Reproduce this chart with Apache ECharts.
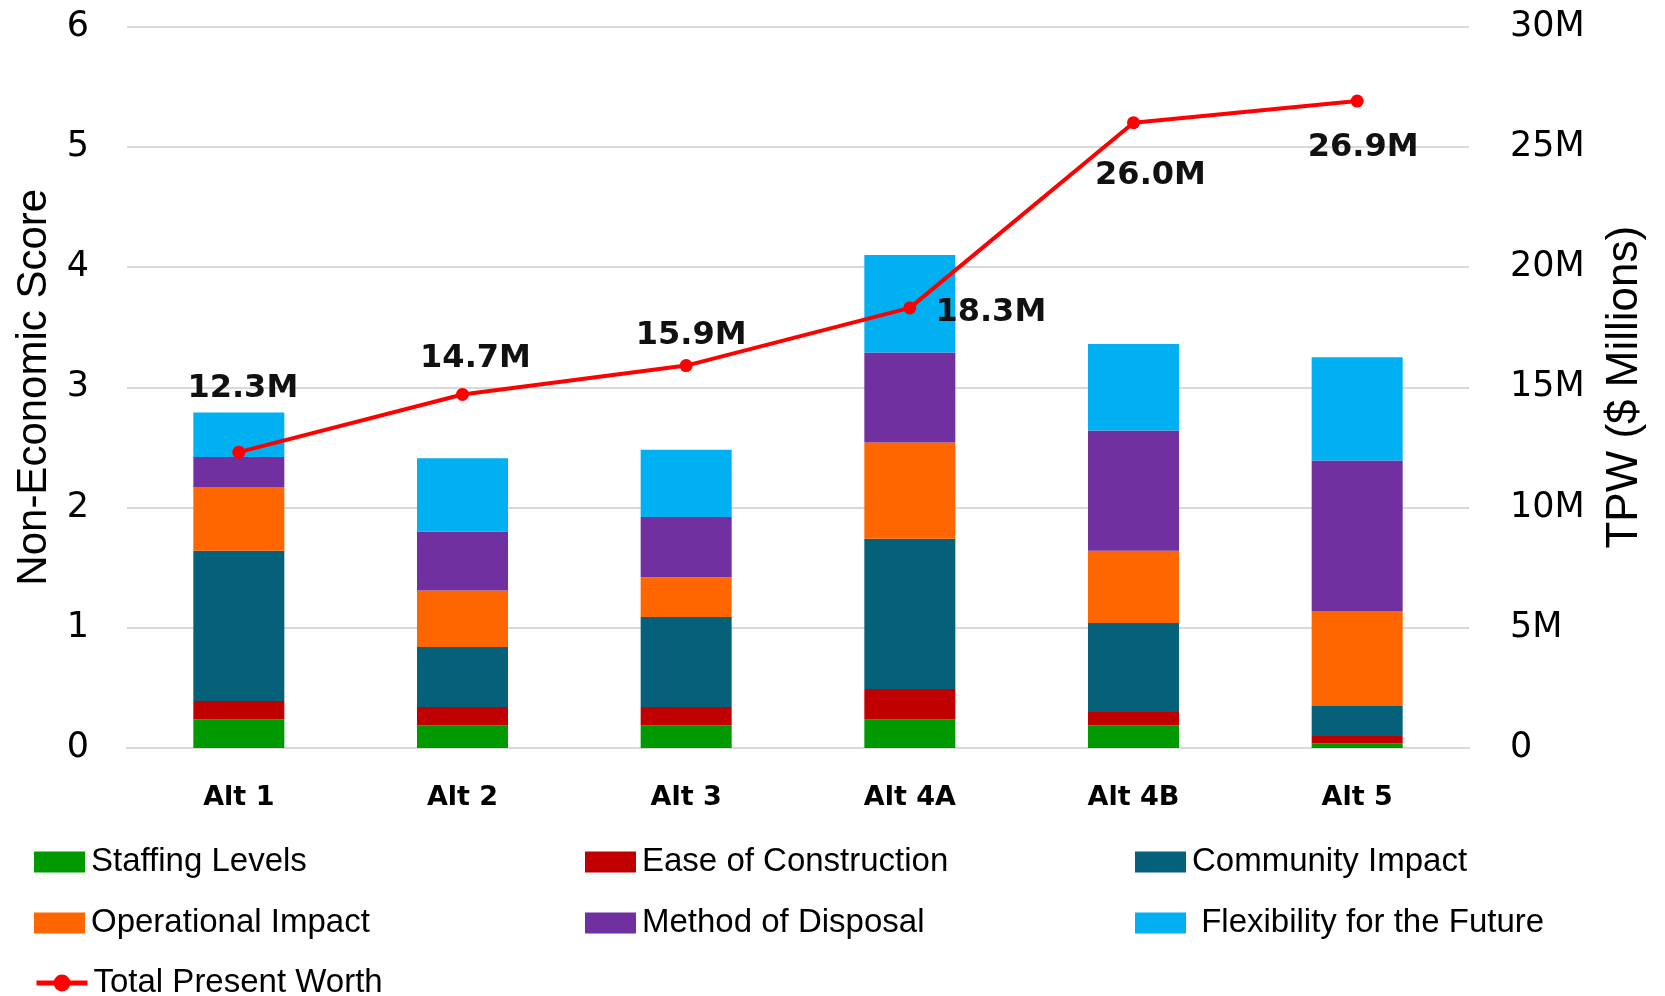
<!DOCTYPE html>
<html>
<head>
<meta charset="utf-8">
<script src="https://cdn.jsdelivr.net/npm/echarts@6/dist/echarts.min.js"></script>
<style>
html,body{margin:0;padding:0;background:#fff;}
#chart{width:1665px;height:996px;}
</style>
</head>
<body>
<div id="chart"></div>
<script>
// ---- data ----
const categories = ['Alt 1', 'Alt 2', 'Alt 3', 'Alt 4A', 'Alt 4B', 'Alt 5'];
const staffingLevels      = [0.24, 0.19, 0.19, 0.24, 0.19, 0.04];
const easeOfConstruction  = [0.15, 0.15, 0.15, 0.25, 0.11, 0.06];
const communityImpact     = [1.25, 0.50, 0.75, 1.25, 0.74, 0.25];
const operationalImpact   = [0.53, 0.47, 0.33, 0.80, 0.60, 0.79];
const methodOfDisposal    = [0.25, 0.49, 0.50, 0.75, 1.00, 1.25];
const flexibilityFuture   = [0.37, 0.61, 0.56, 0.81, 0.72, 0.86];
const totalPresentWorth   = [12.3, 14.7, 15.9, 18.3, 26.0, 26.9];
const leftTickLabels  = ['0', '1', '2', '3', '4', '5', '6'];
const rightTickLabels = ['0', '5M', '10M', '15M', '20M', '25M', '30M'];

// ---- styling (not data) ----
const labelOffsets = [[4, -63], [13, -36], [5, -30], [81, 5], [17, 53], [6, 47]];
const calibriLike = '"Liberation Sans", Arial, sans-serif';
const geomFont = '"DejaVu Sans", sans-serif';

const barDefs = [
  {name: 'Staffing Levels', data: staffingLevels, color: '#009900'},
  {name: 'Ease of Construction', data: easeOfConstruction, color: '#C00000'},
  {name: 'Community Impact', data: communityImpact, color: '#05617A'},
  {name: 'Operational Impact', data: operationalImpact, color: '#FF6600'},
  {name: 'Method of Disposal', data: methodOfDisposal, color: '#7030A0'},
  {name: 'Flexibility for the Future', data: flexibilityFuture, color: '#00B0F0'}
];

const series = barDefs.map(d => ({
  name: d.name,
  type: 'bar',
  stack: 'score',
  barWidth: 91,
  data: d.data,
  itemStyle: {color: d.color},
  emphasis: {disabled: true}
}));

series.push({
  name: 'Total Present Worth',
  type: 'line',
  yAxisIndex: 1,
  data: totalPresentWorth.map((v, i) => ({
    value: v,
    label: {offset: labelOffsets[i]}
  })),
  lineStyle: {color: '#FF0000', width: 4},
  itemStyle: {color: '#FF0000'},
  symbol: 'circle',
  symbolSize: 13,
  z: 10,
  label: {
    show: true,
    position: 'inside',
    formatter: p => p.value.toFixed(1) + 'M',
    fontFamily: geomFont,
    fontWeight: 'bold',
    fontSize: 32,
    color: '#111'
  }
});

// legend placement: [name, left, centerY]
const legendSpots = [
  ['Staffing Levels', 34, 859],
  ['Ease of Construction', 585, 859],
  ['Community Impact', 1135, 859],
  ['Operational Impact', 34, 920],
  ['Method of Disposal', 585, 920],
  ['Flexibility for the Future', 1135, 920],
  ['Total Present Worth', 34, 980]
];
const legends = legendSpots.map(([n, l, cy]) => {
  const isLine = n === 'Total Present Worth';
  return {
    data: [isLine ? {name: n} : {name: n, icon: 'rect'}],
    left: l,
    top: cy - 13.5,
    itemWidth: 51,
    itemHeight: 21,
    itemGap: 0,
    padding: 0,
    selectedMode: false,
    lineStyle: {width: 5},
    formatter: name => name === 'Flexibility for the Future' ? ' ' + name : name,
    textStyle: {fontFamily: calibriLike, fontSize: 33, color: '#000', padding: [0, 0, 0, 1], lineHeight: 21}
  };
});

const option = {
  animation: false,
  backgroundColor: '#fff',
  grid: {left: 127, right: 196, top: 26.5, bottom: 248},
  legend: legends,
  xAxis: {
    type: 'category',
    data: categories,
    axisTick: {show: false},
    axisLine: {lineStyle: {color: '#D9D9D9', width: 2}},
    axisLabel: {margin: 36, fontFamily: geomFont, fontWeight: 'bold', fontSize: 27, color: '#000'}
  },
  yAxis: [
    {
      type: 'value', min: 0, max: 6, interval: 1,
      name: 'Non-Economic Score', nameLocation: 'middle', nameGap: 72, nameRotate: 90,
      nameTextStyle: {fontFamily: calibriLike, fontSize: 42, color: '#000'},
      axisLabel: {margin: 38, fontFamily: geomFont, fontSize: 35, color: '#000',
        formatter: (v) => leftTickLabels[Math.round(v)]},
      splitLine: {lineStyle: {color: '#D9D9D9', width: 2}},
      axisLine: {show: false}, axisTick: {show: false}
    },
    {
      type: 'value', min: 0, max: 30, interval: 5, position: 'right',
      name: 'TPW ($ Millions)', nameLocation: 'middle', nameGap: 134, nameRotate: 90,
      nameTextStyle: {fontFamily: calibriLike, fontSize: 44, color: '#000'},
      axisLabel: {margin: 41, fontFamily: geomFont, fontSize: 35, color: '#000',
        formatter: (v) => rightTickLabels[Math.round(v / 5)]},
      splitLine: {show: false},
      axisLine: {show: false}, axisTick: {show: false}
    }
  ],
  series: series
};

const chart = echarts.init(document.getElementById('chart'));
chart.setOption(option);
</script>
</body>
</html>
